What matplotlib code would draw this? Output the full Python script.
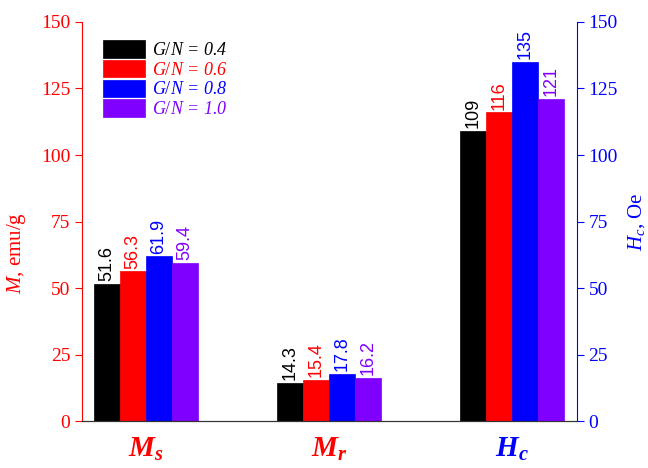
import matplotlib
matplotlib.use('Agg')
import matplotlib.pyplot as plt
import numpy as np

plt.rcParams['font.family'] = 'Liberation Serif'
plt.rcParams['mathtext.fontset'] = 'custom'
plt.rcParams['mathtext.rm'] = 'Liberation Serif'
plt.rcParams['mathtext.it'] = 'Liberation Serif:italic'
plt.rcParams['mathtext.bf'] = 'Liberation Serif:bold'
plt.rcParams['mathtext.bfit'] = 'Liberation Serif:bold:italic'

# data
groups = [r'$\mathbfit{M}_\mathbfit{s}$', r'$\mathbfit{M}_\mathbfit{r}$', r'$\mathbfit{H}_\mathbfit{c}$']
ratios = ['0.4', '0.6', '0.8', '1.0']
Ms = [51.6, 56.3, 61.9, 59.4]
Mr = [14.3, 15.4, 17.8, 16.2]
Hc = [109, 116, 135, 121]
colors = ['#000000', '#FF0000', '#0000FF', '#8000FF']

values = np.array([Ms, Mr, Hc])  # rows = groups
x = np.arange(len(groups))
w = 0.142

fig = plt.figure(figsize=(6.48, 4.68), dpi=100)
ax = fig.add_axes([0.1265, 0.1004, 0.7635, 0.8526])
ax2 = ax.twinx()

for i in range(len(ratios)):
    pos = x + (i - 1.5) * w
    # M values on left axis, Hc on right axis (same scale)
    ax.bar(pos[:2], values[:2, i], w, color=colors[i], edgecolor=colors[i], linewidth=0.5,
           label='$G/N$ = ' + ratios[i])
    ax2.bar(pos[2], values[2, i], w, color=colors[i], edgecolor=colors[i], linewidth=0.5)
    for xx, v in zip(pos, values[:, i]):
        txt = ('%.1f' % v) if v < 100 else '%d' % v
        ax.text(xx, v + 1.0, txt, rotation=90, ha='center', va='bottom',
                color=colors[i], fontsize=13, family='Liberation Sans')

for a in (ax, ax2):
    a.set_ylim(0, 150)
    a.set_yticks(np.arange(0, 151, 25))
    a.set_xlim(-0.35, 2.355)
    a.spines['top'].set_visible(False)
    a.spines['bottom'].set_color('#333333')

ax.spines['left'].set_color('red')
ax.spines['right'].set_visible(False)
ax2.spines['left'].set_visible(False)
ax2.spines['right'].set_color('blue')
ax.tick_params(axis='y', colors='red', labelsize=14, length=5, direction='out')
ax2.tick_params(axis='y', colors='blue', labelsize=14, length=5, direction='out')

ax.set_xticks(x)
ax.set_xticklabels(groups, fontsize=21)
ax.tick_params(axis='x', length=0, pad=11)
for lbl, c in zip(ax.get_xticklabels(), ['red', 'red', 'blue']):
    lbl.set_color(c)

ax.set_ylabel('$M$, emu/g', color='red', fontsize=15)
ax.yaxis.set_label_coords(-0.11, 0.42)
ax2.set_ylabel('$H_c$, Oe', color='blue', fontsize=15, labelpad=6)

leg = ax.legend(loc='upper left', bbox_to_anchor=(0.01, 0.995), frameon=False, fontsize=13,
                handlelength=2.3, handleheight=1.1, labelspacing=0.05, handletextpad=0.4)
for t, c in zip(leg.get_texts(), colors):
    t.set_color(c)
    t.set_style('italic')

fig.savefig('out.png', dpi=100)
